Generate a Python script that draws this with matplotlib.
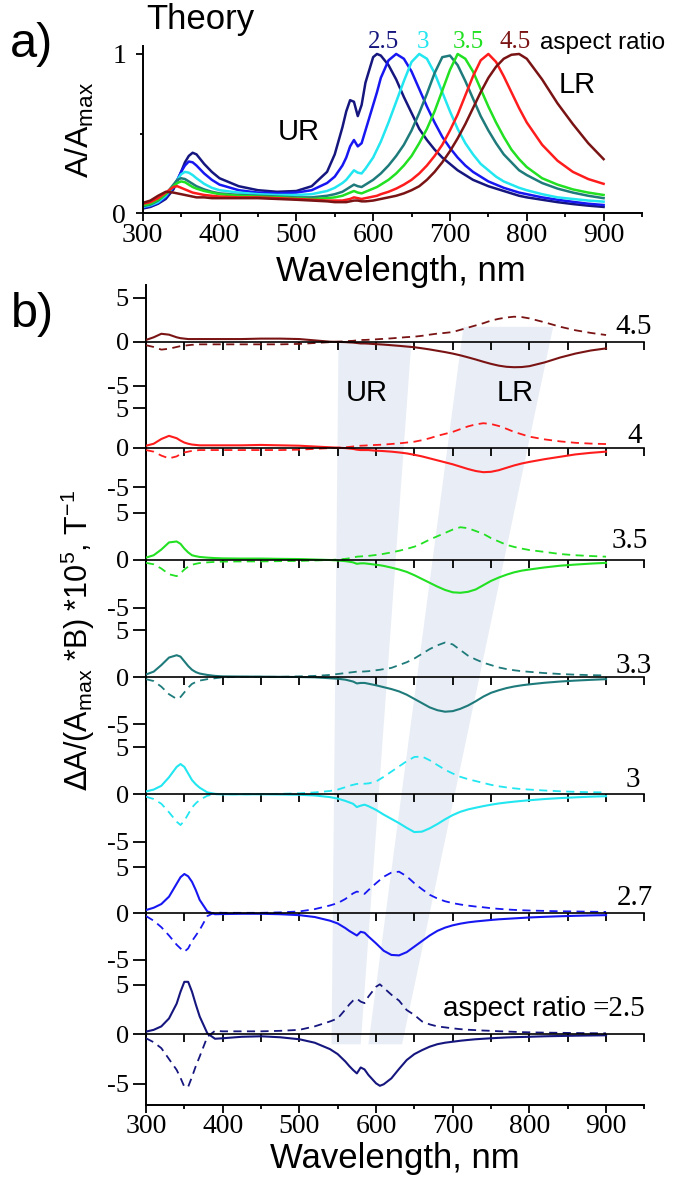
import matplotlib.pyplot as plt
from matplotlib.patches import Polygon
from matplotlib.ticker import FixedLocator

plt.rcParams['font.family'] = 'Liberation Sans'
plt.rcParams['axes.linewidth'] = 1.4

# wavelength grid, nm
wl = [300, 310, 320, 330, 340, 345, 350, 355, 360, 365,
      370, 380, 390, 400, 425, 450, 475, 500, 520, 540,
      550, 560, 565, 570, 575, 580, 585, 590, 600, 605,
      610, 620, 630, 640, 650, 660, 670, 680, 690, 700,
      710, 720, 730, 740, 750, 760, 770, 780, 790, 800,
      820, 840, 860, 880, 900]

ratios = ['2.5', '2.7', '3', '3.3', '3.5', '4', '4.5']
colors = ['#16167f', '#1717f2', '#22e6f0', '#1f7b7b', '#22e022', '#ff1c1c', '#7a1414']

# a) normalised absorption A/Amax
abs_25 = [0.03, 0.04, 0.06, 0.09, 0.15, 0.20, 0.26, 0.32, 0.36, 0.38,
          0.37, 0.31, 0.26, 0.22, 0.17, 0.145, 0.135, 0.14, 0.17, 0.26,
          0.37, 0.54, 0.64, 0.71, 0.70, 0.61, 0.68, 0.82, 0.98, 1.0,
          0.99, 0.93, 0.84, 0.73, 0.63, 0.53, 0.46, 0.40, 0.35, 0.31,
          0.27, 0.24, 0.21, 0.19, 0.17, 0.155, 0.14, 0.125, 0.11, 0.10,
          0.085, 0.07, 0.058, 0.048, 0.04]
abs_27 = [0.035, 0.045, 0.065, 0.10, 0.16, 0.21, 0.26, 0.30, 0.325, 0.32,
          0.30, 0.25, 0.21, 0.18, 0.145, 0.13, 0.125, 0.13, 0.145, 0.19,
          0.23, 0.30, 0.35, 0.42, 0.46, 0.42, 0.44, 0.52, 0.68, 0.76,
          0.85, 0.96, 1.0, 0.97, 0.89, 0.78, 0.67, 0.57, 0.48, 0.41,
          0.35, 0.30, 0.26, 0.23, 0.20, 0.18, 0.16, 0.145, 0.13, 0.12,
          0.10, 0.085, 0.072, 0.06, 0.052]
abs_30 = [0.04, 0.05, 0.07, 0.11, 0.17, 0.21, 0.245, 0.26, 0.255, 0.24,
          0.22, 0.185, 0.16, 0.145, 0.13, 0.12, 0.115, 0.115, 0.12, 0.14,
          0.16, 0.19, 0.21, 0.24, 0.27, 0.255, 0.25, 0.28, 0.35, 0.40,
          0.45, 0.57, 0.70, 0.83, 0.95, 1.0, 0.97, 0.88, 0.76, 0.64,
          0.53, 0.44, 0.37, 0.31, 0.27, 0.23, 0.20, 0.18, 0.16, 0.145,
          0.12, 0.10, 0.09, 0.08, 0.073]
abs_33 = [0.045, 0.055, 0.08, 0.12, 0.18, 0.21, 0.22, 0.215, 0.20, 0.185,
          0.17, 0.15, 0.135, 0.125, 0.115, 0.11, 0.105, 0.10, 0.10, 0.11,
          0.12, 0.135, 0.15, 0.165, 0.18, 0.17, 0.165, 0.18, 0.21, 0.23,
          0.25, 0.30, 0.36, 0.43, 0.52, 0.63, 0.75, 0.88, 0.98, 0.99,
          0.93, 0.83, 0.72, 0.61, 0.52, 0.44, 0.37, 0.32, 0.27, 0.24,
          0.19, 0.155, 0.13, 0.11, 0.095]
abs_35 = [0.05, 0.06, 0.085, 0.12, 0.17, 0.19, 0.20, 0.195, 0.18, 0.165,
          0.155, 0.14, 0.13, 0.12, 0.11, 0.105, 0.10, 0.095, 0.09, 0.095,
          0.10, 0.11, 0.12, 0.13, 0.14, 0.13, 0.125, 0.135, 0.155, 0.165,
          0.18, 0.21, 0.25, 0.30, 0.36, 0.44, 0.53, 0.64, 0.77, 0.90,
          1.0, 0.97, 0.89, 0.78, 0.67, 0.57, 0.48, 0.40, 0.34, 0.29,
          0.22, 0.18, 0.15, 0.13, 0.115]
abs_40 = [0.06, 0.07, 0.095, 0.13, 0.165, 0.17, 0.16, 0.15, 0.14, 0.13,
          0.125, 0.115, 0.11, 0.105, 0.10, 0.10, 0.095, 0.09, 0.085, 0.08,
          0.08, 0.08, 0.085, 0.09, 0.10, 0.095, 0.09, 0.095, 0.105, 0.11,
          0.12, 0.135, 0.155, 0.18, 0.21, 0.25, 0.30, 0.36, 0.43, 0.52,
          0.62, 0.74, 0.86, 0.96, 1.0, 0.95, 0.86, 0.76, 0.66, 0.57,
          0.43, 0.33, 0.26, 0.215, 0.185]
abs_45 = [0.065, 0.08, 0.11, 0.135, 0.13, 0.125, 0.12, 0.115, 0.11, 0.105,
          0.10, 0.10, 0.095, 0.095, 0.095, 0.095, 0.09, 0.085, 0.08, 0.075,
          0.07, 0.07, 0.07, 0.075, 0.08, 0.08, 0.075, 0.075, 0.08, 0.085,
          0.09, 0.10, 0.11, 0.125, 0.145, 0.17, 0.21, 0.26, 0.32, 0.39,
          0.47, 0.56, 0.66, 0.76, 0.85, 0.92, 0.97, 0.995, 1.0, 0.97,
          0.84, 0.69, 0.56, 0.44, 0.34]

# b) dA/(Amax*B)*1e5, solid and dashed curves
mcd_25 = [0.27, 0.45, 0.8, 1.6, 3.1, 4.3, 5.3, 5.3, 4.3, 3.0,
          1.8, 0.1, -0.45, -0.4, -0.25, -0.2, -0.3, -0.5, -0.85, -1.5,
          -2.0, -2.75, -3.2, -3.6, -3.95, -3.35, -3.55, -4.1, -4.95, -5.2,
          -5.05, -4.45, -3.5, -2.6, -2.0, -1.6, -1.25, -1.0, -0.85, -0.75,
          -0.65, -0.57, -0.5, -0.45, -0.4, -0.36, -0.32, -0.29, -0.27, -0.25,
          -0.2, -0.17, -0.14, -0.12, -0.1]
mcd_25_dash = [-0.4, -0.8, -1.4, -2.5, -3.6, -4.4, -5.3, -5.3, -4.3, -3.2,
               -2.25, -0.25, 0.35, 0.3, 0.3, 0.3, 0.35, 0.45, 0.8, 1.3,
               1.6, 2.5, 3.0, 3.4, 3.6, 3.3, 3.15, 3.8, 4.8, 5.05,
               4.7, 4.0, 3.4, 2.45, 1.95, 1.3, 1.0, 0.8, 0.7, 0.6,
               0.52, 0.46, 0.42, 0.38, 0.35, 0.31, 0.28, 0.25, 0.22, 0.2,
               0.17, 0.15, 0.13, 0.11, 0.1]
mcd_27 = [0.35, 0.6, 1.0, 1.8, 3.2, 3.9, 4.25, 4.0, 3.4, 2.5,
          1.45, 0.2, -0.1, -0.08, -0.05, -0.05, -0.1, -0.2, -0.4, -0.8,
          -1.1, -1.6, -1.9, -2.15, -2.4, -2.0, -2.1, -2.5, -3.25, -3.65,
          -4.05, -4.5, -4.55, -4.2, -3.6, -3.0, -2.4, -1.9, -1.55, -1.3,
          -1.12, -0.98, -0.88, -0.8, -0.72, -0.65, -0.6, -0.55, -0.5, -0.45,
          -0.38, -0.32, -0.27, -0.23, -0.2]
mcd_27_dash = [-0.3, -0.8, -1.5, -2.4, -3.4, -3.8, -4.15, -3.8, -3.0, -2.4,
               -1.8, -0.3, 0.1, 0.05, 0.05, 0.05, 0.1, 0.2, 0.45, 0.85,
               1.1, 1.55, 1.85, 2.15, 2.35, 2.25, 2.1, 2.5, 3.25, 3.6,
               3.95, 4.4, 4.5, 4.0, 3.25, 2.6, 2.0, 1.6, 1.3, 1.1,
               0.95, 0.83, 0.73, 0.65, 0.55, 0.48, 0.42, 0.37, 0.33, 0.3,
               0.26, 0.22, 0.2, 0.17, 0.15]
mcd_30 = [0.3, 0.5, 0.9, 1.8, 2.9, 3.2, 2.9, 2.2, 1.5, 1.05,
          0.7, 0.2, 0.05, 0.0, 0.0, 0.0, -0.02, -0.05, -0.12, -0.3,
          -0.45, -0.7, -0.85, -1.0, -1.35, -1.2, -1.1, -1.25, -1.65, -1.9,
          -2.15, -2.6, -3.05, -3.55, -4.0, -3.95, -3.6, -3.15, -2.65, -2.2,
          -1.85, -1.6, -1.42, -1.25, -1.1, -0.97, -0.87, -0.78, -0.7, -0.63,
          -0.5, -0.4, -0.32, -0.25, -0.2]
mcd_30_dash = [-0.25, -0.5, -1.0, -1.9, -2.9, -3.25, -2.8, -2.1, -1.4, -0.95,
               -0.6, -0.15, 0.0, 0.0, 0.0, 0.02, 0.05, 0.1, 0.2, 0.35,
               0.5, 0.75, 0.9, 1.0, 1.1, 1.1, 1.12, 1.15, 1.35, 1.6,
               1.85, 2.4, 2.95, 3.5, 3.95, 4.0, 3.6, 3.1, 2.6, 2.2,
               1.85, 1.6, 1.4, 1.2, 1.0, 0.85, 0.73, 0.63, 0.55, 0.5,
               0.4, 0.32, 0.26, 0.22, 0.2]
mcd_33 = [0.3, 0.6, 1.3, 2.1, 2.35, 2.2, 1.7, 1.2, 0.8, 0.55,
          0.4, 0.25, 0.15, 0.1, 0.08, 0.07, 0.05, 0.03, 0.0, -0.1,
          -0.15, -0.25, -0.35, -0.45, -0.65, -0.6, -0.6, -0.68, -0.85, -0.95,
          -1.05, -1.25, -1.5, -1.85, -2.3, -2.75, -3.2, -3.5, -3.66, -3.6,
          -3.35, -3.0, -2.55, -2.05, -1.65, -1.38, -1.15, -0.98, -0.85, -0.75,
          -0.58, -0.45, -0.35, -0.27, -0.2]
mcd_33_dash = [-0.2, -0.4, -1.0, -1.8, -2.3, -2.1, -1.6, -1.1, -0.7, -0.5,
               -0.35, -0.2, -0.1, 0.0, 0.05, 0.05, 0.05, 0.1, 0.15, 0.25,
               0.35, 0.45, 0.5, 0.55, 0.6, 0.6, 0.62, 0.65, 0.75, 0.8,
               0.87, 1.0, 1.3, 1.6, 2.0, 2.5, 3.0, 3.4, 3.7, 3.5,
               2.9, 2.3, 1.9, 1.55, 1.3, 1.05, 0.88, 0.75, 0.65, 0.58,
               0.45, 0.35, 0.28, 0.23, 0.2]
mcd_35 = [0.25, 0.5, 1.1, 1.85, 1.95, 1.7, 1.2, 0.8, 0.5, 0.4,
          0.32, 0.25, 0.2, 0.17, 0.15, 0.15, 0.12, 0.1, 0.05, 0.0,
          -0.05, -0.12, -0.18, -0.25, -0.4, -0.35, -0.35, -0.4, -0.5, -0.55,
          -0.62, -0.8, -1.0, -1.25, -1.6, -2.0, -2.4, -2.8, -3.15, -3.4,
          -3.45, -3.35, -3.1, -2.65, -2.2, -1.85, -1.55, -1.3, -1.12, -1.0,
          -0.78, -0.6, -0.48, -0.38, -0.3]
mcd_35_dash = [-0.3, -0.45, -0.9, -1.5, -1.7, -1.4, -1.0, -0.7, -0.5, -0.4,
               -0.32, -0.25, -0.2, -0.17, -0.15, -0.15, -0.12, -0.1, -0.05, 0.0,
               0.05, 0.12, 0.18, 0.25, 0.35, 0.38, 0.4, 0.43, 0.53, 0.58,
               0.65, 0.8, 0.97, 1.17, 1.4, 1.75, 2.15, 2.5, 2.85, 3.2,
               3.45, 3.35, 3.05, 2.75, 2.3, 1.95, 1.6, 1.38, 1.2, 1.05,
               0.85, 0.63, 0.5, 0.42, 0.35]
mcd_40 = [0.25, 0.5, 1.1, 1.5, 1.2, 0.9, 0.65, 0.5, 0.4, 0.35,
          0.3, 0.3, 0.3, 0.3, 0.3, 0.35, 0.3, 0.25, 0.15, 0.05,
          0.0, -0.05, -0.1, -0.15, -0.25, -0.3, -0.3, -0.3, -0.38, -0.4,
          -0.43, -0.5, -0.6, -0.72, -0.9, -1.1, -1.35, -1.6, -1.85, -2.1,
          -2.4, -2.7, -2.95, -3.1, -3.05, -2.85, -2.55, -2.25, -2.0, -1.8,
          -1.45, -1.15, -0.85, -0.65, -0.5]
mcd_40_dash = [-0.3, -0.5, -1.0, -1.35, -1.1, -0.8, -0.6, -0.5, -0.4, -0.35,
               -0.3, -0.3, -0.3, -0.3, -0.3, -0.3, -0.3, -0.25, -0.15, -0.05,
               0.0, 0.05, 0.1, 0.15, 0.22, 0.25, 0.27, 0.3, 0.35, 0.37,
               0.4, 0.47, 0.55, 0.65, 0.76, 0.95, 1.2, 1.5, 1.75, 2.0,
               2.35, 2.7, 2.95, 3.1, 3.0, 2.75, 2.4, 2.0, 1.7, 1.4,
               1.05, 0.8, 0.62, 0.52, 0.46]
mcd_45 = [0.2, 0.5, 0.9, 0.8, 0.5, 0.4, 0.35, 0.3, 0.3, 0.3,
          0.3, 0.3, 0.3, 0.3, 0.3, 0.35, 0.35, 0.3, 0.15, 0.0,
          -0.02, -0.05, -0.08, -0.1, -0.15, -0.2, -0.2, -0.22, -0.28, -0.3,
          -0.33, -0.4, -0.47, -0.55, -0.63, -0.75, -0.88, -1.03, -1.18, -1.35,
          -1.55, -1.78, -2.02, -2.28, -2.52, -2.72, -2.85, -2.9, -2.88, -2.78,
          -2.35, -1.8, -1.35, -1.0, -0.76]
mcd_45_dash = [-0.4, -0.6, -0.9, -0.8, -0.6, -0.5, -0.45, -0.4, -0.35, -0.35,
               -0.3, -0.3, -0.3, -0.3, -0.3, -0.3, -0.3, -0.25, -0.15, -0.05,
               0.0, 0.05, 0.08, 0.1, 0.15, 0.2, 0.2, 0.22, 0.27, 0.3,
               0.32, 0.38, 0.45, 0.52, 0.57, 0.67, 0.8, 0.92, 1.0, 1.1,
               1.35, 1.6, 1.85, 2.1, 2.4, 2.6, 2.75, 2.84, 2.8, 2.65,
               2.2, 1.7, 1.3, 1.0, 0.76]

absorb = [abs_25, abs_27, abs_30, abs_33, abs_35, abs_40, abs_45]
mcd = [mcd_25, mcd_27, mcd_30, mcd_33, mcd_35, mcd_40, mcd_45]
mcd_dash = [mcd_25_dash, mcd_27_dash, mcd_30_dash, mcd_33_dash,
            mcd_35_dash, mcd_40_dash, mcd_45_dash]

# shaded guides for UR and LR: (wavelength, height in panel b)
ur_band = [(551, 0.929), (646, 0.929), (580, 0.074), (542, 0.074)]
lr_band = [(714, 0.949), (831, 0.949), (634, 0.074), (590, 0.074)]

W, H = 675, 1179
SERIF = 'Liberation Serif'


def box(x0, y0, x1, y1):
    return [x0 / W, 1 - y1 / H, (x1 - x0) / W, (y1 - y0) / H]


def put(x, y, s, **kw):
    fig.text(x / W, 1 - y / H, s, va='baseline', **kw)


def wl_ticks(ax, major, minor, labels=True):
    ax.set_xlim(300, 950)
    ax.xaxis.set_major_locator(FixedLocator(range(300, 901, 100)))
    ax.xaxis.set_minor_locator(FixedLocator(range(350, 951, 100)))
    ax.tick_params(axis='x', which='major', direction='out', length=major,
                   width=1.3, labelsize=20, labelfontfamily=SERIF, pad=1,
                   labelbottom=labels)
    ax.tick_params(axis='x', which='minor', direction='out', length=minor, width=1.3)


fig = plt.figure(figsize=(W / 100, H / 100), dpi=100)

# ---- a) absorption
axa = fig.add_axes(box(142.7, 46, 642, 213.3))
for y, c in zip(absorb, colors):
    axa.plot(wl, y, color=c, lw=1.8)
axa.set_ylim(0, 1.05)
wl_ticks(axa, 6, 3)
axa.set_yticks([0, 1], ['0', '1'])
axa.set_yticks([0.5], minor=True)
axa.tick_params(axis='y', which='major', direction='out', length=5, width=1.3,
                labelsize=20, labelfontfamily=SERIF, pad=7)
axa.tick_params(axis='y', which='minor', direction='out', length=2.5, width=1.3)
for s in ['top', 'right']:
    axa.spines[s].set_visible(False)

put(401, 281, 'Wavelength, nm', ha='center', size=25)
fig.text(80 / W, 1 - 130 / H, r'A/A$_{\mathregular{max}}$', rotation=90,
         ha='center', va='center', size=23)
put(10, 57, 'a)', size=35)
put(146, 29.5, 'Theory', size=25)
for s, x, c in [('2.5', 368, colors[0]), ('3', 416.7, colors[2]),
                ('3.5', 453, colors[4]), ('4.5', 500, colors[6])]:
    put(x, 48.5, s, color=c, size=18, family=SERIF)
put(540, 48.5, 'aspect ratio', size=17.5)
put(278, 140, 'UR', size=21)
put(559, 93, 'LR', size=21)

# ---- b) frame with shared wavelength axis
axf = fig.add_axes(box(146, 285, 644.4, 1105))
axf.set_facecolor('none')
axf.set_ylim(0, 1)
axf.set_yticks([])
wl_ticks(axf, 5.5, 3.2)
for s in ['top', 'right']:
    axf.spines[s].set_visible(False)
for band in (ur_band, lr_band):
    axf.add_patch(Polygon(band, closed=True, facecolor='#e9eef6',
                          edgecolor='none', zorder=0))

put(395, 1168, 'Wavelength, nm', ha='center', size=25)
fig.text(78 / W, 1 - 640 / H,
         r'$\Delta$A/(A$_{\mathregular{max}}$ *B) *10$^{\mathregular{5}}$, T$^{\mathregular{-1}}$',
         rotation=90, ha='center', va='center', size=22)
put(11, 327, 'b)', size=35)
put(346, 400.7, 'UR', size=21)
put(497, 400.7, 'LR', size=21)

# stacked spectra, largest aspect ratio on top
row_top = [285, 397, 500, 618, 735, 855, 972]
row_bot = [397, 500, 618, 735, 855, 972, 1105]
row_zero = [341.7, 447.7, 560, 677.3, 794.3, 913.3, 1034.3]
px_unit = [8.8, 7.9, 9.5, 9.4, 9.45, 9.25, 9.9]
tag_pos = [(652, 334), (642, 443), (648, 548), (652, 673), (640, 787), (653, 905)]

for k, i in enumerate(range(6, -1, -1)):
    ax = fig.add_axes(box(146, row_top[k], 644.4, row_bot[k]))
    ax.set_facecolor('none')
    ax.plot(wl, mcd[i], color=colors[i], lw=1.5)
    ax.plot(wl, mcd_dash[i], color=colors[i], lw=1.3, ls=(0, (4.5, 3)))
    ax.set_ylim(-(row_bot[k] - row_zero[k]) / px_unit[k],
                (row_zero[k] - row_top[k]) / px_unit[k])
    wl_ticks(ax, 6, 6, labels=False)
    for s in ['top', 'right', 'left']:
        ax.spines[s].set_visible(False)
    ax.spines['bottom'].set_position(('data', 0))
    ax.spines['bottom'].set_linewidth(1.2)
    ax.set_yticks([-5, 0, 5], ['-5', '0', '5'])
    ax.tick_params(axis='y', direction='out', length=9.5, width=1.3,
                   labelsize=19, labelfontfamily=SERIF, pad=3)
    if k < 6:
        x, y = tag_pos[k]
        put(x, y, ratios[i], ha='right', size=21, family=SERIF)

put(586, 1016, 'aspect ratio', ha='right', size=20)
put(593, 1016, '=' + ratios[0], size=21, family=SERIF)

fig.savefig('out.png', dpi=100)
